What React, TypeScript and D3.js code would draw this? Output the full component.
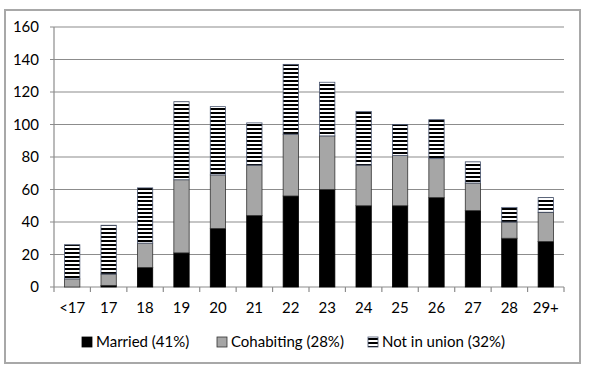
import * as d3 from "d3"
import React, { useRef, useEffect } from "react"

const ages = ["<17", "17", "18", "19", "20", "21", "22", "23", "24", "25", "26", "27", "28", "29+"]
const married = [0, 1, 12, 21, 36, 44, 56, 60, 50, 50, 55, 47, 30, 28]
const cohabiting = [5, 7, 15, 45, 33, 31, 38, 33, 25, 31, 24, 17, 10, 18]
const notInUnion = [21, 30, 34, 48, 42, 26, 43, 33, 33, 19, 24, 13, 9, 9]
const yTicks = [0, 20, 40, 60, 80, 100, 120, 140, 160]
const seriesNames = ["Married (41%)", "Cohabiting (28%)", "Not in union (32%)"]

const W = 590
const H = 374
const FONT = "Lato, 'Open Sans', sans-serif"

function App() {
    const ref = useRef(null);

    useEffect(() => {
        draw();
    }, []);

    const draw = () => {
        const svg = d3.select(ref.current);
        svg.selectAll("*").remove();

        // stripe pattern for "not in union"
        const defs = svg.append("defs");
        const pat = defs.append("pattern")
            .attr("id", "stripes")
            .attr("patternUnits", "userSpaceOnUse")
            .attr("width", 4)
            .attr("height", 4);
        pat.append("rect").attr("width", 4).attr("height", 4).attr("fill", "#fff");
        pat.append("rect").attr("width", 4).attr("height", 2).attr("fill", "#000");

        // outer frame
        svg.append("rect")
            .attr("x", 5).attr("y", 10)
            .attr("width", 575).attr("height", 353)
            .attr("fill", "#fff")
            .attr("stroke", "#a8a8a8")
            .attr("stroke-width", 2);

        const x = d3.scaleBand()
            .domain(ages)
            .range([54, 564])
            .paddingInner(0.58)
            .paddingOuter(0.29);

        const y = d3.scaleLinear()
            .domain([0, 160])
            .range([287, 27]);

        // gridlines
        svg.selectAll("grid")
            .data(yTicks)
            .enter()
            .append("line")
            .attr("x1", 50).attr("x2", 564)
            .attr("y1", d => y(d)).attr("y2", d => y(d))
            .attr("stroke", "#8c8c8c")
            .attr("stroke-width", 1.2);

        // y tick labels
        svg.selectAll("ylab")
            .data(yTicks)
            .enter()
            .append("text")
            .attr("x", 39)
            .attr("y", d => y(d))
            .attr("dy", "0.35em")
            .attr("text-anchor", "end")
            .attr("font-size", "15px")
            .attr("font-family", FONT)
            .attr("fill", "#000")
            .text(d => d);

        // y axis line
        svg.append("line")
            .attr("x1", 54).attr("x2", 54)
            .attr("y1", y(160)).attr("y2", y(0))
            .attr("stroke", "#8c8c8c").attr("stroke-width", 1.2);

        // x tick marks at category boundaries
        const step = x.step();
        const bounds = d3.range(ages.length + 1).map(i => 54 + i * step);
        svg.selectAll("xtick")
            .data(bounds)
            .enter()
            .append("line")
            .attr("x1", d => d).attr("x2", d => d)
            .attr("y1", y(0)).attr("y2", y(0) + 5)
            .attr("stroke", "#8c8c8c").attr("stroke-width", 1.2);

        // stacked bars
        const rows = ages.map((a, i) => ({ age: a, married: married[i], cohabiting: cohabiting[i], notInUnion: notInUnion[i] }));
        const stack = d3.stack().keys(["married", "cohabiting", "notInUnion"])(rows as any);
        const fills = ["#000", "#a6a6a6", "url(#stripes)"];
        const strokes = ["#000", "#333", "#4a5670"];

        stack.forEach((layer, k) => {
            svg.selectAll("bar" + k)
                .data(layer)
                .enter()
                .append("rect")
                .attr("x", d => x((d as any).data.age))
                .attr("y", d => y(d[1]))
                .attr("width", x.bandwidth())
                .attr("height", d => Math.max(0, y(d[0]) - y(d[1])))
                .attr("fill", fills[k])
                .attr("stroke", d => (d[1] - d[0] > 0 ? strokes[k] : "none"))
                .attr("stroke-width", 0.8);
        });

        // x labels
        svg.selectAll("xlab")
            .data(ages)
            .enter()
            .append("text")
            .attr("x", d => x(d) + x.bandwidth() / 2)
            .attr("y", 308)
            .attr("dy", "0.35em")
            .attr("text-anchor", "middle")
            .attr("font-size", "15px")
            .attr("font-family", FONT)
            .attr("fill", "#000")
            .text(d => d);

        // legend
        const legendX = [82, 217, 368];
        const lg = svg.selectAll("legend")
            .data(seriesNames)
            .enter()
            .append("g")
            .attr("transform", (d, i) => `translate(${legendX[i]},342)`);
        lg.append("rect")
            .attr("x", 0).attr("y", -5)
            .attr("width", 10).attr("height", 10)
            .attr("fill", (d, i) => fills[i])
            .attr("stroke", (d, i) => strokes[i])
            .attr("stroke-width", 0.8);
        lg.append("text")
            .attr("x", 14)
            .attr("y", 0)
            .attr("dy", "0.35em")
            .attr("font-size", "15px")
            .attr("font-family", FONT)
            .attr("fill", "#000")
            .text(d => d);
    }

    return (
        <div style={{ position: "absolute", left: 0, top: 0 }}>
            <svg ref={ref} width={W} height={H} style={{ display: "block" }}>
            </svg>
        </div>
    )
}

export default App
